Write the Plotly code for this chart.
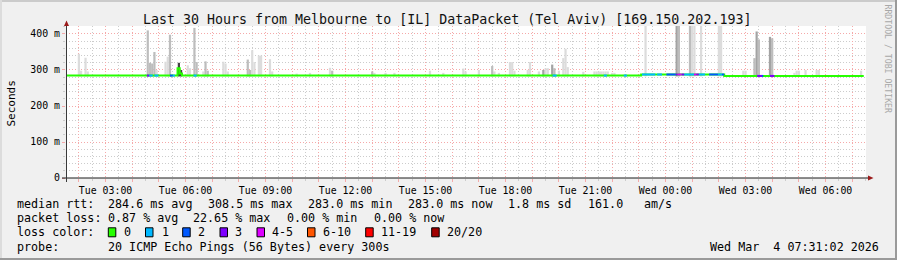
import plotly.graph_objects as go

# ---------------- data ----------------
title_text = "Last 30 Hours from Melbourne to [IL] DataPacket (Tel Aviv) [169.150.202.193]"
range_start = "2026-03-03 01:31:02"
range_end = "2026-03-04 07:31:02"
y_top = 422.2

y_tick_values = [0, 100, 200, 300, 400]
y_tick_labels = ["0", "100 m", "200 m", "300 m", "400 m"]

# median rtt runs (ms)
median_start = ["3 01:31", "3 05:42", "3 05:47", "3 05:52", "3 23:05", "4 02:12"]
median_end = ["3 05:42", "3 05:47", "3 05:52", "3 23:05", "4 02:12", "4 07:26"]
median_ms = [284.5, 305, 290, 284.5, 287.5, 283.5]

# packet-loss runs (loss colour bucket of the median line)
loss_start = ["3 04:33", "3 04:38", "3 04:50", "3 05:25", "3 05:31", "3 06:18", "3 19:46",
              "3 21:41", "3 22:26", "3 23:07", "3 23:41", "4 00:02", "4 00:23", "4 00:27",
              "4 00:36", "4 00:42", "4 01:04", "4 01:09", "4 01:15", "4 01:38", "4 01:58",
              "4 02:07", "4 03:26", "4 03:37", "4 03:55"]
loss_end = ["3 04:38", "3 04:46", "3 04:59", "3 05:31", "3 05:36", "3 06:25", "3 19:55",
            "3 21:48", "3 22:33", "3 23:37", "3 23:52", "4 00:23", "4 00:27", "4 00:36",
            "4 00:42", "4 01:04", "4 01:09", "4 01:15", "4 01:29", "4 01:58", "4 02:07",
            "4 02:12", "4 03:37", "4 03:40", "4 04:05"]
loss_bucket = ["3", "1", "1", "2", "1", "1", "1", "1", "1", "1", "1", "2", "3", "4-5",
               "3", "1", "4-5", "3", "1", "2", "1", "2", "3", "2", "3"]

# smoke (ping spread) per 5-minute step: time, top value (ms), shade
smoke_time = ["3 02:00", "3 02:05", "3 02:15", "3 02:20",
              "3 04:35", "3 04:40", "3 04:45", "3 04:50", "3 04:55",
              "3 05:15", "3 05:20", "3 05:25", "3 05:45", "3 05:50",
              "3 06:05", "3 06:10", "3 06:20", "3 06:25",
              "3 06:40", "3 06:45", "3 06:50",
              "3 07:25", "3 07:30", "3 07:35",
              "3 08:20", "3 08:25", "3 08:30", "3 08:35", "3 08:45", "3 08:50",
              "3 09:10", "3 09:15", "3 10:10", "3 10:40", "3 11:25", "3 11:30",
              "3 13:00", "3 13:05", "3 13:30", "3 13:50", "3 15:10", "3 15:40",
              "3 16:25", "3 16:30", "3 17:00", "3 17:30", "3 17:35", "3 17:45",
              "3 18:10", "3 18:15", "3 18:20", "3 18:50", "3 18:55", "3 19:15",
              "3 19:25", "3 19:30", "3 19:35", "3 19:45", "3 19:50", "3 20:00",
              "3 20:10", "3 20:15", "3 20:20", "3 20:55",
              "3 21:20", "3 21:25", "3 21:30", "3 21:35", "3 21:40", "3 21:45", "3 21:50",
              "3 22:00", "3 22:05", "3 23:15",
              "4 00:25", "4 00:30", "4 00:55", "4 01:00", "4 01:05", "4 01:20",
              "4 02:00", "4 02:05", "4 02:55", "4 03:00",
              "4 03:20", "4 03:25", "4 03:30", "4 03:55", "4 04:00",
              "4 04:50", "4 04:55", "4 05:00", "4 05:15", "4 05:40", "4 05:45", "4 07:20"]
smoke_top = [345, 298, 334, 296,
             410, 320, 318, 350, 300,
             323, 337, 398, 320, 300,
             313, 305, 417, 322,
             296, 324, 298,
             323, 318, 296,
             329, 300, 355, 322, 340, 340,
             330, 296, 290, 292, 306, 298,
             296, 292, 292, 292, 298, 292,
             304, 296, 300, 311, 296, 292,
             322, 322, 298, 300, 322, 296,
             300, 305, 305, 315, 305, 298,
             333, 359, 308, 295,
             296, 296, 296, 296, 296, 296, 296,
             292, 292, 430,
             430, 430, 430, 430, 430, 430,
             430, 430, 298, 298,
             333, 407, 385, 392, 388,
             292, 298, 298, 300, 300, 300, 298]
smoke_shade = ["l", "l", "l", "l",
               "m", "m", "m", "m", "l",
               "l", "l", "m", "k", "k",
               "l", "l", "m", "m",
               "l", "m", "m",
               "l", "l", "l",
               "m", "m", "l", "l", "l", "l",
               "l", "l", "l", "l", "l", "m",
               "m", "l", "l", "l", "l", "l",
               "l", "l", "l", "m", "l", "l",
               "l", "l", "l", "l", "l", "l",
               "d", "l", "l", "d", "m", "l",
               "l", "l", "l", "l",
               "l", "l", "l", "l", "l", "l", "l",
               "l", "l", "l",
               "d", "m", "m", "l", "l", "l",
               "l", "l", "l", "l",
               "m", "d", "m", "d", "m",
               "l", "l", "l", "l", "l", "l", "l"]
smoke_base = 282

loss_labels = ["0", "1", "2", "3", "4-5", "6-10", "11-19", "20/20"]
loss_colors = ["#26ff00", "#00b8ff", "#0059ff", "#7e00ff", "#dd00ff", "#ff5500", "#ff0000", "#a10000"]

stats_rtt = ["284.6 ms avg", "308.5 ms max", "283.0 ms min", "283.0 ms now", "1.8 ms sd", "161.0", "am/s"]
stats_loss = ["0.87 % avg", "22.65 % max", "0.00 % min", "0.00 % now"]
probe_text = "20 ICMP Echo Pings (56 Bytes) every 300s"
stamp_text = "Wed Mar \u00a04 07:31:02 2026"

# ---------------- helpers ----------------
def ts(s):
    d, hm = s.split()
    return f"2026-03-0{d} {hm}:00"

def median_at(s):
    for a, b, v in zip(median_start, median_end, median_ms):
        if ts(a) <= ts(s) < ts(b):
            return v
    return median_ms[-1]

W, H = 897, 260
L, R, T, B = 66, 866, 26, 178

def pxx(px):
    return (px - L) / (R - L)

def pxy(py):
    return (B - py) / (B - T)

MONO = "DejaVu Sans Mono"
shade_colors = {"l": "#dcdcdc", "m": "#bdbdbd", "d": "#a3a3a3", "k": "#454545"}
bucket_color = dict(zip(loss_labels, loss_colors))

fig = go.Figure()

# smoke
for sh in ["l", "m", "d", "k"]:
    xs = [ts(t) for t, s in zip(smoke_time, smoke_shade) if s == sh]
    ys = [v - smoke_base for v, s in zip(smoke_top, smoke_shade) if s == sh]
    if xs:
        fig.add_trace(go.Bar(x=xs, y=ys, base=smoke_base, width=300000,
                             marker=dict(color=shade_colors[sh], line=dict(width=0)),
                             hoverinfo="skip"))

# median line (loss 0)
mx = [ts(s) for s in median_start] + [ts(median_end[-1])]
my = list(median_ms) + [median_ms[-1]]
fig.add_trace(go.Scatter(x=mx, y=my, mode="lines", line=dict(color=loss_colors[0], width=2, shape="hv"),
                         hoverinfo="skip"))

# loss coloured parts
for b in loss_labels[1:]:
    xs, ys = [], []
    for a, e, k in zip(loss_start, loss_end, loss_bucket):
        if k == b:
            v = median_at(a)
            xs += [ts(a), ts(e), None]
            ys += [v, v, None]
    if xs:
        fig.add_trace(go.Scatter(x=xs, y=ys, mode="lines", line=dict(color=bucket_color[b], width=2),
                                 hoverinfo="skip"))

red_grid = "#f5a9a9"
gray_grid = "#cccccc"

fig.update_layout(
    width=W, height=H,
    margin=dict(l=L, r=W - R, t=T, b=H - B, pad=0),
    paper_bgcolor="#f0f0f0", plot_bgcolor="#ffffff",
    showlegend=False, barmode="overlay",
    xaxis=dict(type="date", range=[range_start, range_end], tick0="2026-03-03 00:00:00",
               dtick=3600000, ticklabelstep=3, tickformat="%a %H:%M",
               showgrid=True, gridcolor=red_grid, griddash="1px,2px", gridwidth=1,
               ticks="outside", ticklen=3, tickcolor=red_grid,
               minor=dict(dtick=1800000, showgrid=True, gridcolor=gray_grid, griddash="1px,2px",
                          ticks="outside", ticklen=2, tickcolor=gray_grid),
               showline=False, zeroline=False,
               tickfont=dict(family=MONO, size=9.9, color="#000"), fixedrange=True),
    yaxis=dict(range=[0, y_top], tickmode="array", tickvals=y_tick_values, ticktext=y_tick_labels,
               showgrid=True, gridcolor=red_grid, griddash="1px,2px",
               ticks="outside", ticklen=3, tickcolor=red_grid,
               minor=dict(tickmode="linear", tick0=0, dtick=20, showgrid=True, gridcolor=gray_grid,
                          griddash="1px,2px", ticks="outside", ticklen=2, tickcolor=gray_grid),
               showline=False, zeroline=False,
               tickfont=dict(family=MONO, size=9.9, color="#000"), fixedrange=True),
)

shapes = []
# frame shading
shapes.append(dict(type="rect", xref="paper", yref="paper", x0=pxx(0), x1=pxx(W), y0=pxy(0), y1=pxy(2),
                   fillcolor="#cbcbcb", line=dict(width=0), layer="below"))
shapes.append(dict(type="rect", xref="paper", yref="paper", x0=pxx(0), x1=pxx(2), y0=pxy(0), y1=pxy(H),
                   fillcolor="#dcdcdc", line=dict(width=0), layer="below"))
shapes.append(dict(type="rect", xref="paper", yref="paper", x0=pxx(W - 2), x1=pxx(W), y0=pxy(0), y1=pxy(H),
                   fillcolor="#9a9a9a", line=dict(width=0), layer="below"))
shapes.append(dict(type="rect", xref="paper", yref="paper", x0=pxx(0), x1=pxx(W), y0=pxy(H - 2), y1=pxy(H),
                   fillcolor="#9a9a9a", line=dict(width=0), layer="below"))
# axes
shapes.append(dict(type="line", xref="paper", yref="paper", x0=pxx(62), x1=pxx(869), y0=pxy(178), y1=pxy(178),
                   line=dict(color="#1a1a1a", width=1)))
shapes.append(dict(type="line", xref="paper", yref="paper", x0=pxx(66.5), x1=pxx(66.5), y0=pxy(182), y1=pxy(24),
                   line=dict(color="#3a3a3a", width=1)))
# arrows
shapes.append(dict(type="path", xref="paper", yref="paper",
                   path=f"M {pxx(64)} {pxy(26)} L {pxx(69)} {pxy(26)} L {pxx(66.5)} {pxy(20.5)} Z",
                   fillcolor="#9b1b1b", line=dict(width=0)))
shapes.append(dict(type="path", xref="paper", yref="paper",
                   path=f"M {pxx(868)} {pxy(175.5)} L {pxx(868)} {pxy(180.5)} L {pxx(873.5)} {pxy(178)} Z",
                   fillcolor="#9b1b1b", line=dict(width=0)))

ann = []

def text(px, py, s, size=11.7, anchor="left", color="#000", angle=0, yanchor="middle"):
    ann.append(dict(xref="paper", yref="paper", x=pxx(px), y=pxy(py), text=s, showarrow=False,
                    xanchor=anchor, yanchor=yanchor, textangle=angle, borderpad=0,
                    font=dict(family=MONO, size=size, color=color)))

text(447, 19.5, title_text, size=13.3, anchor="center", color="#111")
text(10.5, 103, "Seconds", size=11, anchor="center", angle=-90)
text(887.5, 59, "RRDTOOL / TOBI OETIKER", size=8.2, anchor="center", angle=90, color="#a8a8a8")

row_y = [204, 218.3, 232.3, 246.7]
text(16, row_y[0], "median rtt:")
for s, x in zip(stats_rtt, [107.3, 207.3, 307.3, 407.3, 506.7, 586.7, 642.7]):
    text(x, row_y[0], s)
text(16, row_y[1], "packet loss:")
for s, x in zip(stats_loss, [107.3, 191.7, 286.0, 372.7]):
    text(x, row_y[1], s)
text(16, row_y[2], "loss color:")
box_x = [108.3, 145.5, 182.7, 220.0, 257.0, 307.5, 365.7, 431.7]
lab_x = [122.7, 160.7, 197.3, 234.3, 270.7, 321.7, 380.0, 446.0]
for lbl, col, bx, lx in zip(loss_labels, loss_colors, box_x, lab_x):
    shapes.append(dict(type="rect", xref="paper", yref="paper", x0=pxx(bx), x1=pxx(bx + 7.5),
                       y0=pxy(row_y[2] - 4.5), y1=pxy(row_y[2] + 4.5),
                       fillcolor=col, line=dict(color="#000", width=1)))
    text(lx, row_y[2], lbl)
text(16, row_y[3], "probe:")
text(107.3, row_y[3], probe_text)
text(880, row_y[3], stamp_text, anchor="right")

fig.update_layout(shapes=shapes, annotations=ann)
fig.write_html("out.html")
